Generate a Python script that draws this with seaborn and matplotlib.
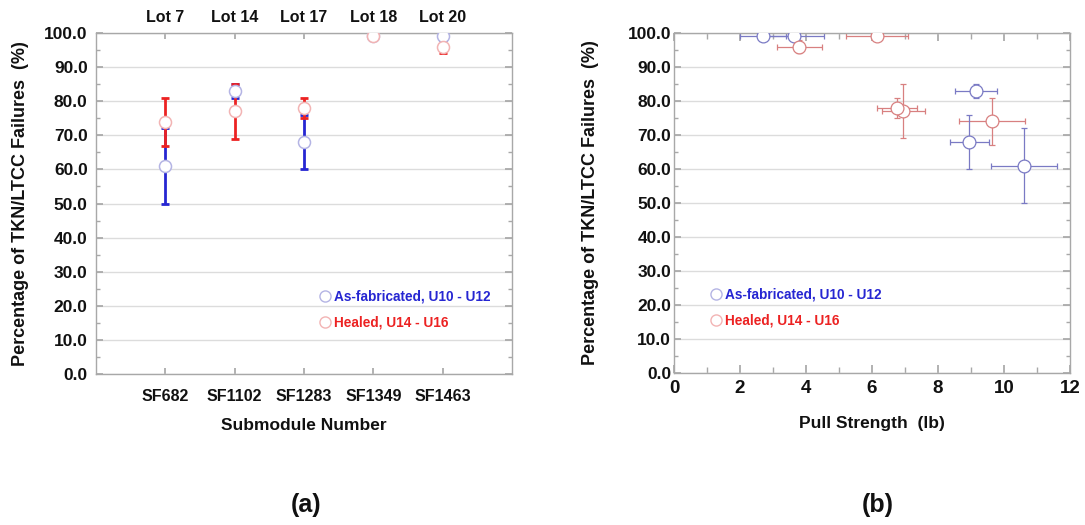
import numpy as np
import pandas as pd
import matplotlib
matplotlib.use("Agg")
import matplotlib.pyplot as plt
from matplotlib.lines import Line2D
from matplotlib.ticker import MultipleLocator, FormatStrFormatter
import seaborn as sns

# ---- data ----
submodules = ["SF682", "SF1102", "SF1283", "SF1349", "SF1463"]
lots = ["Lot 7", "Lot 14", "Lot 17", "Lot 18", "Lot 20"]
asfab_pct = [61, 83, 68, 99, 99]
asfab_pct_err = [11, 2, 8, 1, 1]
healed_pct = [74, 77, 78, 99, 96]
healed_pct_err = [7, 8, 3, 0, 2]
asfab_pull = [10.6, 9.15, 8.95, 2.7, 3.65]
asfab_pull_err = [1.0, 0.65, 0.6, 0.7, 0.9]
healed_pull = [9.65, 6.95, 6.75, 6.15, 3.8]
healed_pull_err = [1.0, 0.65, 0.6, 0.95, 0.68]
legend_labels = ["As-fabricated, U10 - U12", "Healed, U14 - U16"]

df = pd.DataFrame({
    "sub": submodules,
    "asfab_pct": asfab_pct, "asfab_pct_err": asfab_pct_err,
    "healed_pct": healed_pct, "healed_pct_err": healed_pct_err,
    "asfab_pull": asfab_pull, "asfab_pull_err": asfab_pull_err,
    "healed_pull": healed_pull, "healed_pull_err": healed_pull_err,
})

sns.set_theme(style="white")
plt.rcParams["font.family"] = ["Liberation Sans", "DejaVu Sans"]
plt.rcParams["font.weight"] = "bold"

BLUE = "#2626d2"
RED = "#ec2222"
BLUE_FADE = "#7a7ac4"
RED_FADE = "#d88080"
BLUE_MK = "#b4b4e4"
RED_MK = "#f2b4b4"
GRID = "#dcdcdc"
SPINE = "#a8a8a8"
TXT = "#111111"

fig = plt.figure(figsize=(10.85, 5.25), dpi=100)
W, H = 1085, 525
axA = fig.add_axes([96 / W, 1 - 374 / H, (512 - 96) / W, (374 - 33) / H])
axB = fig.add_axes([674 / W, 1 - 373 / H, (1070 - 674) / W, (373 - 33) / H])


def style_axes(ax):
    ax.set_ylim(0, 100)
    ax.yaxis.set_major_locator(MultipleLocator(10))
    ax.yaxis.set_minor_locator(MultipleLocator(5))
    ax.yaxis.set_major_formatter(FormatStrFormatter("%.1f"))
    ax.grid(axis="y", which="major", color=GRID, lw=1.0, zorder=0)
    ax.set_axisbelow(True)
    for s in ax.spines.values():
        s.set_color(SPINE)
        s.set_linewidth(1.0)
    ax.tick_params(axis="y", which="both", direction="in", left=True, right=True,
                   color=SPINE, labelsize=12.5, labelcolor=TXT)
    ax.tick_params(axis="y", which="major", length=5)
    ax.tick_params(axis="y", which="minor", length=3)
    for lab in ax.get_yticklabels():
        lab.set_fontweight("bold")
    ax.set_ylabel("Percentage of TKN/LTCC Failures  (%)", fontsize=13,
                  fontweight="bold", color=TXT)


# ---------- panel (a) ----------
axA.errorbar(df["sub"], df["asfab_pct"], yerr=df["asfab_pct_err"], fmt="none",
             ecolor=BLUE, elinewidth=2.0, capsize=3, capthick=2.0, zorder=2)
axA.errorbar(df["sub"], df["healed_pct"], yerr=df["healed_pct_err"], fmt="none",
             ecolor=RED, elinewidth=2.0, capsize=3, capthick=2.0, zorder=2)
sns.scatterplot(data=df, x="sub", y="asfab_pct", ax=axA, marker="o", s=75,
                facecolor="white", edgecolor=BLUE_MK, linewidth=1.1, zorder=3)
sns.scatterplot(data=df, x="sub", y="healed_pct", ax=axA, marker="o", s=75,
                facecolor="white", edgecolor=RED_MK, linewidth=1.1, zorder=4)
axA.set_xlim(-1, 5)
style_axes(axA)
axA.set_xticks(range(len(submodules)))
axA.set_xticklabels(submodules, fontsize=11.5, fontweight="bold", color=TXT)
axA.tick_params(axis="x", direction="in", length=4, color=SPINE, pad=11,
                bottom=True, top=True)
axA.yaxis.set_tick_params(pad=6)
axA.set_xlabel("Submodule Number", fontsize=12.5, fontweight="bold",
               color=TXT, labelpad=10)
axA.yaxis.set_label_coords(-0.16, 0.5)
sec = axA.secondary_xaxis("top")
sec.set_xticks(range(len(lots)))
sec.set_xticklabels(lots, fontsize=11.5, fontweight="bold", color=TXT)
sec.tick_params(direction="in", length=0, pad=6)
sec.spines["top"].set_visible(False)

# ---------- panel (b) ----------
axB.errorbar(df["healed_pull"], df["healed_pct"], xerr=df["healed_pull_err"],
             yerr=df["healed_pct_err"], fmt="none", ecolor=RED_FADE,
             elinewidth=0.9, capsize=2.5, capthick=0.9, zorder=2)
axB.errorbar(df["asfab_pull"], df["asfab_pct"], xerr=df["asfab_pull_err"],
             yerr=df["asfab_pct_err"], fmt="none", ecolor=BLUE_FADE,
             elinewidth=0.9, capsize=2.5, capthick=0.9, zorder=2)
sns.scatterplot(data=df, x="asfab_pull", y="asfab_pct", ax=axB, marker="o", s=85,
                facecolor="white", edgecolor=BLUE_FADE, linewidth=0.9, zorder=3)
sns.scatterplot(data=df, x="healed_pull", y="healed_pct", ax=axB, marker="o", s=85,
                facecolor="white", edgecolor=RED_FADE, linewidth=0.9, zorder=3)
axB.set_xlim(0, 12)
style_axes(axB)
axB.xaxis.set_major_locator(MultipleLocator(2))
axB.xaxis.set_minor_locator(MultipleLocator(1))
axB.tick_params(axis="x", which="both", direction="in", color=SPINE,
                bottom=True, top=True, labelsize=13.5, labelcolor=TXT, pad=5)
axB.tick_params(axis="x", which="major", length=6)
axB.tick_params(axis="x", which="minor", length=4)
for lab in axB.get_xticklabels():
    lab.set_fontweight("bold")
axB.yaxis.set_tick_params(pad=2)
axB.set_xlabel("Pull Strength  (lb)", fontsize=12.5, fontweight="bold",
               color=TXT, labelpad=14)
axB.yaxis.set_label_coords(-0.19, 0.5)

# ---------- legends ----------
def add_legend(ax, anchor, mk_edges):
    handles = [Line2D([], [], ls="none", marker="o", markersize=8,
                      markerfacecolor="white", markeredgecolor=c, markeredgewidth=1.0)
               for c in mk_edges]
    leg = ax.legend(handles, legend_labels, loc="center left", bbox_to_anchor=anchor,
                    frameon=False, handletextpad=0.15, handlelength=1.0,
                    borderpad=0, borderaxespad=0, labelspacing=0.85,
                    fontsize=9.8, labelcolor=[BLUE, RED])
    for t in leg.get_texts():
        t.set_fontweight("bold")

add_legend(axA, ((318 - 96) / 416, (374 - 309.5) / 341), [BLUE_MK, RED_MK])
add_legend(axB, ((709 - 674) / 396, (373 - 307.5) / 340), [BLUE_MK, RED_MK])

fig.text(306 / W, 1 - 505 / H, "(a)", fontsize=18, fontweight="bold",
         ha="center", va="center", color=TXT)
fig.text(878 / W, 1 - 505 / H, "(b)", fontsize=18, fontweight="bold",
         ha="center", va="center", color=TXT)

fig.savefig("out.png", dpi=100, facecolor="white")
